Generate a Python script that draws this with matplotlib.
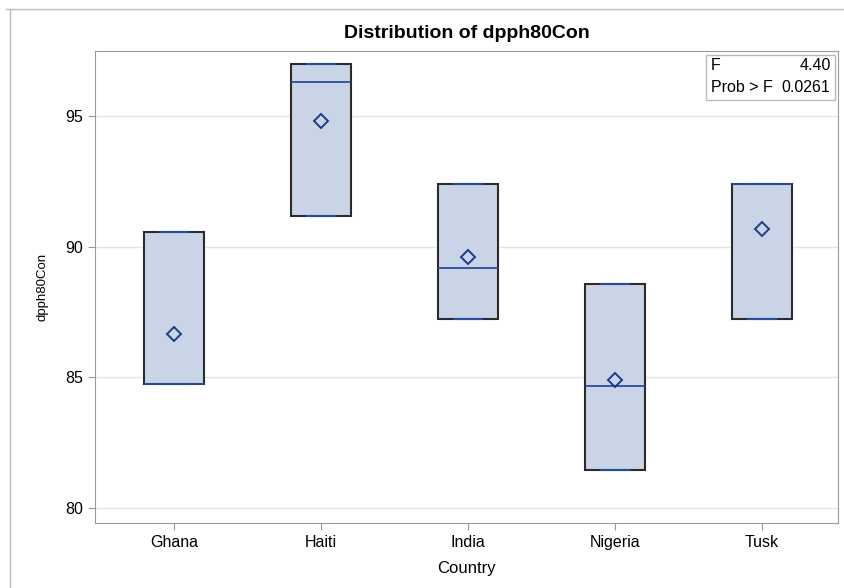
import numpy as np
import matplotlib.pyplot as plt
from matplotlib.lines import Line2D
from matplotlib.patches import Rectangle

plt.rcParams['font.family'] = ['Liberation Sans', 'DejaVu Sans']

countries = ['Ghana', 'Haiti', 'India', 'Nigeria', 'Tusk']
# three observations per country (read from box edges, median and mean)
obs = {
    'Ghana':   [84.73, 84.73, 90.56],
    'Haiti':   [91.19, 96.31, 96.98],
    'India':   [87.25, 89.20, 92.41],
    'Nigeria': [81.47, 84.69, 88.56],
    'Tusk':    [87.25, 92.41, 92.41],
}
f_value = '4.40'
prob_f = '0.0261'

box_fill = '#C9D5E6'
blue = '#2A4C9C'

fig = plt.figure(figsize=(8.44, 5.88), dpi=100)
ax = fig.add_axes([95 / 844, 1 - 523 / 588, 743 / 844, 472 / 588])

# SAS style boxes: with n=3 the box spans min..max
stats = []
for c in countries:
    v = np.array(obs[c])
    stats.append(dict(label=c, q1=v.min(), q3=v.max(), med=np.median(v),
                      mean=v.mean(), whislo=v.min(), whishi=v.max(), fliers=[]))

ax.bxp(stats, positions=range(len(countries)), widths=0.41, capwidths=0.19,
       showmeans=True, patch_artist=True,
       boxprops=dict(facecolor=box_fill, edgecolor='#2b2b2b', linewidth=1.5),
       medianprops=dict(color=blue, linewidth=1.3),
       whiskerprops=dict(color=blue, linewidth=1.3),
       capprops=dict(color=blue, linewidth=1.5),
       meanprops=dict(marker='D', markerfacecolor='none', markeredgecolor='#1A3C8F',
                      markeredgewidth=1.4, markersize=7),
       zorder=3)

ax.set_xlim(-0.54, 4.52)
ax.set_ylim(79.43, 97.49)
ax.set_yticks([80, 85, 90, 95])
ax.set_xticks(range(len(countries)))
ax.set_xticklabels(countries)
ax.yaxis.grid(True, color='#E4E4E4', linewidth=1, zorder=0)
ax.set_axisbelow(True)
for s in ax.spines.values():
    s.set_color('#9A9A9A')
ax.tick_params(colors='#9A9A9A', labelcolor='black', labelsize=11.5, length=5)

ax.set_xlabel('Country', fontsize=12, labelpad=8)
ax.set_ylabel('dpph80Con', fontsize=9.5, labelpad=12)
fig.text(467 / 844, 1 - 33 / 588, 'Distribution of dpph80Con', ha='center', va='center',
         fontsize=14, fontweight='bold')

# statistics inset
ax.add_patch(Rectangle((0.822, 0.896), 0.174, 0.0955, transform=ax.transAxes,
                       facecolor='white', edgecolor='#BBBBBB', linewidth=1, zorder=4))
for yf, lab, val in [(0.970, 'F', f_value), (0.923, 'Prob > F', prob_f)]:
    ax.text(0.829, yf, lab, transform=ax.transAxes, ha='left', va='center',
            fontsize=11.5, zorder=5)
    ax.text(0.990, yf, val, transform=ax.transAxes, ha='right', va='center',
            fontsize=11.5, zorder=5)

# outer frame
fig.add_artist(Line2D([6 / 844, 1], [1 - 9 / 588] * 2, color='#BBBBBB', linewidth=1))
fig.add_artist(Line2D([10 / 844] * 2, [0, 1 - 9 / 588], color='#BBBBBB', linewidth=1))

fig.savefig('out.png', dpi=100)
